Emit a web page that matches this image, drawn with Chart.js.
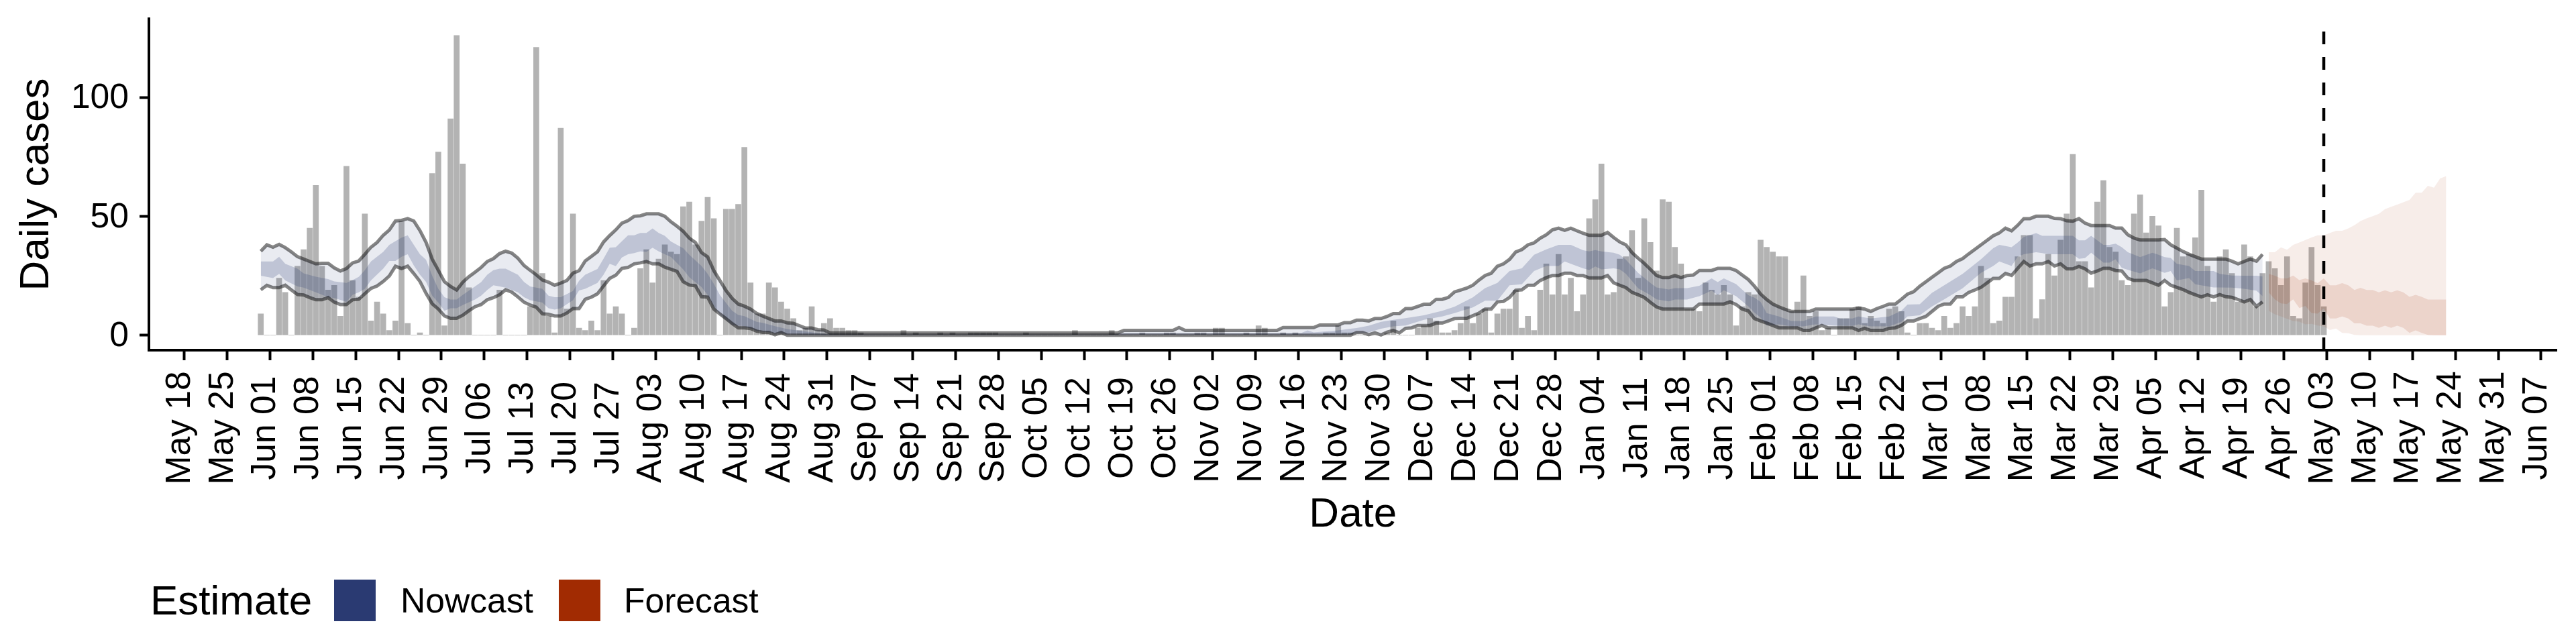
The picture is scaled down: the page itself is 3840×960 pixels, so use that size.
<!DOCTYPE html>
<html>
<head>
<meta charset="utf-8">
<style>html,body{margin:0;padding:0;background:#fff}canvas{display:block}</style>
<script src="https://cdn.jsdelivr.net/npm/chart.js@4"></script>
</head>
<body>
<canvas id="c" width="3840" height="960"></canvas>
<script>
// Day numbers count from May 18 (day 0)
const xTickLabels = ["May 18","May 25","Jun 01","Jun 08","Jun 15","Jun 22","Jun 29","Jul 06","Jul 13","Jul 20","Jul 27","Aug 03","Aug 10","Aug 17","Aug 24","Aug 31","Sep 07","Sep 14","Sep 21","Sep 28","Oct 05","Oct 12","Oct 19","Oct 26","Nov 02","Nov 09","Nov 16","Nov 23","Nov 30","Dec 07","Dec 14","Dec 21","Dec 28","Jan 04","Jan 11","Jan 18","Jan 25","Feb 01","Feb 08","Feb 15","Feb 22","Mar 01","Mar 08","Mar 15","Mar 22","Mar 29","Apr 05","Apr 12","Apr 19","Apr 26","May 03","May 10","May 17","May 24","May 31","Jun 07"];
const yTickValues = [0,50,100];
const casesFirstDay = 16;
const cases = [
9,0,0,24,18,0,29,36,45,63,
29,19,21,8,71,23,16,51,6,14,
9,2,6,48,5,0,1,0,68,77,
4,91,126,72,20,0,0,0,0,19,
0,0,0,0,12,121,26,8,1,87,
11,51,3,2,6,2,23,9,12,9,
0,3,28,36,22,32,38,35,34,54,
56,38,48,58,49,0,53,53,55,79,
22,9,9,22,20,14,11,7,2,3,
12,2,5,7,3,3,2,2,1,0,
0,0,0,0,0,2,0,1,0,0,
0,1,0,1,0,0,1,1,1,1,
1,0,0,0,0,1,0,0,0,0,
0,0,0,2,0,0,0,0,0,2,
0,0,0,0,1,0,0,0,1,1,
0,0,0,1,1,0,3,3,0,0,
0,1,0,4,3,0,0,1,0,1,
0,0,0,0,1,1,4,1,1,0,
0,0,0,0,1,6,0,0,0,3,
4,7,6,1,1,2,5,12,5,9,
11,1,9,11,11,19,3,8,2,19,
30,17,34,17,24,10,17,49,57,72,
17,18,32,33,44,24,49,39,27,57,
56,37,30,11,11,10,22,19,17,21,
17,4,12,18,17,40,37,35,33,33,
10,14,25,8,10,2,3,0,7,7,
11,12,5,8,6,5,11,12,10,1,
0,5,5,3,2,8,3,5,12,8,
12,29,24,5,6,16,16,33,42,42,
7,15,34,25,40,51,76,31,31,20,
56,65,37,35,23,21,51,59,43,50,
46,12,18,45,33,34,41,61,29,14,
33,36,26,14,38,33,12,26,31,28,
21,33,8,7,22,37,21,12];
const nowcastFirstDay = 16;
const nowcastUpper90 = [
35.3,38,37,38.2,36.8,35,33,32,31,30,
30.2,30.2,28.3,27,28,30.4,31.2,34,37,39,
42,44.2,48,48.3,49,48,44,39,32,27.3,
22.5,20.5,19,22.3,24.6,26.5,28.5,31,32.2,34.3,
35.3,34.5,32.4,29.3,27.3,25.4,23.2,22.3,21,21.9,
23,26.1,27.1,31.2,33.1,35.1,39.2,41.9,44.3,47.1,
48.2,50,50.2,51,51,51,50,47.7,45.8,43.7,
40.8,39,34.7,32.9,27.2,23,18.8,15.5,13.1,12.2,
11,9.2,8,7,6,6,5.2,5,4,3,
3,2.3,2.2,1,1,1,1,1,1,1,
1,1,1,1,1,1,1,1,1,1,
1,1,1,1,1,1,1,1,1,1,
1,1,1,1,1,1,1,1,1,1,
1,1,1,1,1,1,1,1,1,1,
1,2,2,2,2,2,2,2,2,2,
3.2,2,2,2,2,2,2,2,2,2,
2,2,2,2,2,2,2,3.2,3.2,3.2,
3.2,3.2,3.2,4.3,4.3,4.3,4.3,5.3,5.3,6.3,
6.3,6,7,7,7.9,9.1,9.1,11.2,11.2,12.1,
13,13,15.1,15.1,15.9,18.2,19,19.8,21,23.2,
25.1,26,29,30,31.9,35,36,38,38.8,40.8,
42.2,44.3,45,44.1,45,43.9,42.9,42,42,42,
43.2,41.1,39.2,38,34.7,32.4,30.2,27.7,25.1,24.2,
24.2,25.1,24.2,25.1,25.3,27.2,27.2,27.2,28.1,28.1,
28.1,27.2,25.3,23.4,20.6,17.3,15,13.1,11.9,10.9,
10,10,10,10,11,11,11,11,11,11,
11,11.4,11,10,11.2,12.1,13.1,13.1,15.1,17.3,
18.3,20.6,22.5,24.4,26.2,28.1,29.1,31,32.2,34.2,
36.1,38,39.9,41.8,43,45,43.9,46.2,49,49,
50,50,50,49.1,49,48.1,47.9,49,47.1,46.1,
46.1,46.1,46.1,45,45,42.2,40.8,40,40,40,
40,40.2,38,36.6,35.2,34,33,32,32,32,
32,32,31.1,30,31,32,31.1,34];
const nowcastLower90 = [
19.1,21,20,20,21,19,17.1,16.9,15.8,14.9,
14.9,15.8,13.9,12.9,12.9,14.9,15.1,17.4,19.7,20.7,
22.6,24.9,29,28,29,25.9,22.6,17.6,13.2,11,
8.1,7.1,7.1,8.4,10.3,12,12.9,14.9,15.8,17,
19.1,18.1,16.1,13.9,12.7,11.8,9,8.8,8.1,8.1,
9.3,11.2,11.2,15.1,16,17.4,20.7,23.9,25.2,28.1,
28.5,30,30.4,31,30,30,28.6,27.7,26.8,22.5,
21.1,20.8,16.2,16,11,8.9,7,4.9,3.1,3.1,
2.8,1.7,1.2,1.2,0.2,1.1,0,0,0,0,
0,0,0,0,0,0,0,0,0,0,
0,0,0,0,0,0,0,0,0,0,
0,0,0,0,0,0,0,0,0,0,
0,0,0,0,0,0,0,0,0,0,
0,0,0,0,0,0,0,0,0,0,
0,0,0,0,0,0,0,0,0,0,
0,0,0,0,0,0,0,0,0,0,
0,0,0,0,0,0,0,0,0,0,
0,0,0,0,0,0,0,0,0,1.1,
1.1,0.2,1,0.1,1.3,2,1,2.9,3.1,4.1,
4.1,4.1,5.1,5.1,6,7,7.1,7.1,8.2,9.3,
11,11,14,14.2,15.9,18.9,19.1,21,21,23,
24.2,25.1,25.1,26.1,26.1,25.1,25.1,24.1,24.1,24.1,
25.1,22,21,20,18,17,15.9,13.8,11.9,11,
11,11,11,11,11,13.1,13.1,13.1,13.1,13.1,
14,12.9,11,10.2,7,6,5.1,4.1,3.1,3.1,
3.1,3.1,2,2,3.1,4.1,3.1,3.1,3.1,3.1,
3.1,2,2.9,2,2,2,2.9,3.1,4.1,6,
6,7,7.9,10,12.1,13.1,13.1,16.1,16.1,18,
19,20.1,22,23.9,23.9,26,25.1,28.1,31,29.1,
30,30,31,29.1,30,27.9,27.9,28.9,27.9,26.1,
27,28.1,28.1,27.2,27,23.9,23,23,23,22,
21,23,21,20.1,19.2,18,17,16.1,17,16.1,
17.1,16.2,15.9,15,14,15,12.1,14];
const nowcastInnerDays = [16,18,19,20,22,23,25,27,28,30,31,32,33,34,36,37,38,39,40,41,42,43,44,45,46,47,48,49,51,52,53,54,55,56,58,59,60,62,63,64,65,67,68,69,71,72,73,74,75,76,77,78,79,80,81,82,83,85,86,88,89,90,91,93,94,95,97,98,100,102,104,107,109,155,157,186,187,188,192,194,195,197,199,201,203,206,209,211,214,216,218,220,222,224,226,228,229,230,232,233,234,235,237,238,239,241,243,244,246,247,249,251,253,254,255,257,259,260,261,262,264,266,268,270,273,274,276,277,279,282,284,285,287,289,291,294,297,299,300,302,303,304,306,307,308,312,313,314,315,317,318,319,320,321,323,325,326,327,328,329,331,332,335,336,338,340,342,343];
const nowcastUpper50 = [31,31,33,30,28,26,24.6,23.6,22.6,22,23.2,24.5,27.3,31,35,38,39.5,41,42,38,34,31.7,25,19.5,16,15,15,17,20.5,22.3,25.4,27.3,28,28,25.4,22.4,20.5,19.5,16.6,16,16,18.6,22.9,25.4,27.8,32.2,36.8,37,39.5,42,42,43,43,44.9,43,41.8,39.4,36.6,33.8,29.1,25.8,21.6,16.9,10.3,8.5,8,5.6,5.2,3.8,2.6,1.9,0.9,0.3,0.3,1,1,2,1.2,2,2.7,3,4,5.6,6.5,7.2,8.4,10.3,12,15.9,19.8,22,27,28.1,33.8,36.1,38,38,38,35.7,35.2,35.8,35.2,34.7,33.8,31.7,26.2,22,20.1,19.2,19.8,19.8,20.8,23.9,22.3,23.9,21.5,16.8,15.8,14,9.3,7.9,6,6,7.9,7.9,7,7,7.9,7,7.9,10.3,12.9,13,17.8,21,25.8,31.9,36.6,38,37,39,41.3,42.9,41.8,41.8,41.8,39.9,39.9,41.8,38,38,38.5,37,34.9,32.8,34.7,33.8,32.8,32.5,30,29.1,27,27,25.8,25.1,25,25,24.7];
const nowcastLower50 = [25,24,25.8,23,20.5,20,18,16,15.6,14,17,18,19.5,23,28,31.2,31.2,33,34,29.3,25.4,22.4,16.6,13.7,10.3,11.3,11.3,12.7,15,16.6,19,21,20.5,20,18,16,14.7,13.7,11.3,10.8,11.3,14.7,18.8,19.5,22,25.4,30,29,32.7,34,34.5,35.2,35,36.8,35.2,34,32.9,27.7,24.4,20.2,16.9,12.2,8.5,4.2,4,3.8,1.9,1.6,0.9,0.5,0.3,0.1,0,0,0.2,0.2,0.2,0.3,0.3,0.4,0.6,1.2,2.7,3.7,4.1,6.5,7.9,9.3,11.7,14.5,14.5,21,21.4,27,29.1,29.1,31,30,28.1,27.4,28.9,27.7,28.1,27.7,25.8,19.7,16.8,15.1,14.2,15,15,16.4,18.7,16.8,18.9,16.4,12.1,9.5,7.4,4.1,4.6,3.7,3.7,4.6,4.1,4,3.9,4.6,3.7,3.7,5.6,7.9,8.4,12.1,15.1,19.7,26.2,29.1,31,29.1,33,34,34.9,34.5,34,34,32.1,32.4,34.7,30.5,30.5,31.9,28.3,27.5,26,28.1,27.2,26.2,27,23,24,21.4,20.1,20.1,20,19.5,18.7,16.4];
const forecastFirstDay = 344;
const forecastUpper90 = [34.9,34.9,36.9,35.9,38,39,40,41.1,42,42,43,43.9,43.9,44.9,46.2,48,49.1,50,51,53,54,54.9,55.9,56.9,59.9,59.9,62.8,62,65.9,66.9];
const forecastLower90 = [10.3,8.8,7.9,6.9,6,5.7,4.6,4.8,4.1,3.7,2.2,2.8,1,0.8,0.1,0,0,0,0,0,0,0,0,0,0,0,0,0,0,0];
const forecastUpper50 = [25.8,25,23.9,23.9,25.1,23.2,23.9,23,21.9,23.9,21,21,21.9,21,19,19.9,19,19,18,18.9,18,18.9,18,16.1,17,16.1,15,15,15,15];
const forecastLower50 = [18,15.1,13.4,13.1,15.1,11.4,12.3,9.3,9.1,11.2,7,7,7.9,7,5,5,4,4,3.1,4,3.1,4,3.1,1,2,1,0.1,0,0,0];
const forecastDateDay = 353;
const legendTitle = "Estimate";
const legendNames = ["Nowcast","Forecast"];
const legendColors = ["#2a3a72","#a12b02"];

const FONT = '"Liberation Sans", Arial, Helvetica, sans-serif';
const weekDays = xTickLabels.map((_, i) => i * 7);
const fromDay = (first, arr) => arr.map((y, i) => ({x: first + i, y}));
const onDays = (days, arr) => arr.map((y, i) => ({x: days[i], y}));
const Y_MIN = -6.29, Y_MAX = 133;

const ribbon = (label, data, fill, bg, order) => ({type:'line', label, data, fill, backgroundColor:bg, borderWidth:0, pointRadius:0, order, tension:0});
const LINE = 'rgba(0,0,0,0.48)';

const datasets = [
  {type:'bar', label:'Daily cases', data: fromDay(casesFirstDay, cases), backgroundColor:'#b3b3b3', barThickness:8, order:10},
  {type:'line', label:'Nowcast 90% upper', data: fromDay(nowcastFirstDay, nowcastUpper90), fill:false, borderColor:LINE, borderWidth:5, pointRadius:0, order:7, tension:0},
  {type:'line', label:'Nowcast 90% lower', data: fromDay(nowcastFirstDay, nowcastLower90), fill:1, backgroundColor:'rgba(42,58,114,0.10)', borderColor:LINE, borderWidth:5, pointRadius:0, order:7, tension:0},
  ribbon('Nowcast 50% upper', onDays(nowcastInnerDays, nowcastUpper50), false, 'transparent', 8),
  ribbon('Nowcast 50% lower', onDays(nowcastInnerDays, nowcastLower50), 3, 'rgba(42,58,114,0.22)', 8),
  ribbon('Forecast 90% upper', fromDay(forecastFirstDay, forecastUpper90), false, 'transparent', 6),
  ribbon('Forecast 90% lower', fromDay(forecastFirstDay, forecastLower90), 5, 'rgba(161,43,2,0.085)', 6),
  ribbon('Forecast 50% upper', fromDay(forecastFirstDay, forecastUpper50), false, 'transparent', 5),
  ribbon('Forecast 50% lower', fromDay(forecastFirstDay, forecastLower50), 7, 'rgba(161,43,2,0.13)', 5),
  {type:'line', label:'Forecast date', data:[{x:forecastDateDay,y:Y_MIN},{x:forecastDateDay,y:Y_MAX}], borderColor:'#000', borderWidth:4.5, borderDash:[19,19], pointRadius:0, fill:false, order:1}
];

const layoutPlugin = {
  id:'referenceLayout',
  beforeDraw(chart){
    // date labels: centred in their column, just right of the tick
    const sx = chart.scales.x;
    sx.getLabelItems().forEach((it, i) => {
      const o = it.options;
      o.textAlign = 'center';
      o.textBaseline = 'alphabetic';
      o.translation = [sx.getPixelForValue(weekDays[i]) + 40, 638];
      it.textOffset = 0;
    });
    const sy = chart.scales.y;
    sy.getLabelItems().forEach((it, i) => {
      const o = it.options;
      o.translation = [o.translation[0], sy.getPixelForValue(yTickValues[i]) + 2];
    });
  },
  afterDraw(chart){
    const c = chart.ctx;
    c.save();
    c.fillStyle = '#000';
    c.fillRect(220, 520, 4, 4); // corner of the two axis lines
    c.textBaseline = 'middle';
    c.textAlign = 'left';
    c.font = '62px ' + FONT;
    c.fillText(legendTitle, 224, 899);
    c.font = '51.6px ' + FONT;
    const boxX = [498, 833], textX = [597, 930];
    legendNames.forEach((n, i) => {
      c.fillStyle = legendColors[i];
      c.fillRect(boxX[i], 864, 62, 62);
      c.fillStyle = '#000';
      c.fillText(n, textX[i], 899);
    });
    c.restore();
  }
};

new Chart(document.getElementById('c'), {
  data:{datasets},
  plugins:[layoutPlugin],
  options:{
    responsive:false, animation:false, devicePixelRatio:1,
    layout:{padding:{left:0,top:28,right:28.3,bottom:0}},
    plugins:{legend:{display:false}, tooltip:{enabled:false}, title:{display:false}},
    scales:{
      x:{
        type:'linear', min:-2.27, max:391.1, offset:false,
        afterBuildTicks:s=>{s.ticks = weekDays.map(v=>({value:v}));},
        afterFit:s=>{s.height=438; s.paddingLeft=0; s.paddingRight=0;},
        grid:{display:true, drawOnChartArea:false, drawTicks:true, tickLength:15, tickWidth:4, tickColor:'#000'},
        border:{display:true, color:'#000', width:4},
        ticks:{autoSkip:false, minRotation:90, maxRotation:90, color:'#000', font:{family:FONT,size:51.6}, callback:v=>xTickLabels[weekDays.indexOf(v)]},
        title:{display:true, text:'Date', color:'#000', font:{family:FONT,size:62}, padding:{top:0,bottom:155}}
      },
      y:{
        type:'linear', min:Y_MIN, max:Y_MAX,
        afterBuildTicks:s=>{s.ticks = yTickValues.map(v=>({value:v}));},
        afterFit:s=>{s.width=222; s.paddingTop=0; s.paddingBottom=0;},
        grid:{display:true, drawOnChartArea:false, drawTicks:true, tickLength:14, tickWidth:4, tickColor:'#000'},
        border:{display:true, color:'#000', width:4},
        ticks:{padding:16, color:'#000', font:{family:FONT,size:51.6}},
        title:{display:true, text:'Daily cases', color:'#000', font:{family:FONT,size:62}, padding:{top:18,bottom:0}}
      }
    }
  }
});
</script>
</body>
</html>
